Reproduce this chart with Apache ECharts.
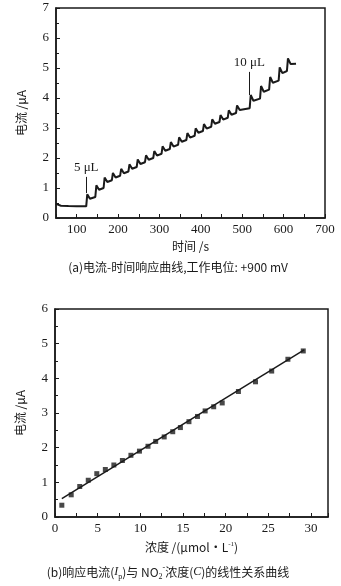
<!DOCTYPE html>
<html>
<head>
<meta charset="utf-8">
<script src="https://cdn.jsdelivr.net/npm/echarts@6/dist/echarts.min.js"></script>
<style>
  html, body { margin: 0; padding: 0; background: #fff; }
  #chart { width: 341px; height: 586px; }
</style>
</head>
<body>
<div id="chart"></div>
<script>
// (a) current-time trace: baseline before the first injection
const baseTime = [50, 54, 62, 80, 100, 123];
const baseCurrent = [0.47, 0.43, 0.41, 0.40, 0.39, 0.39];
// (a) injection times (s) and the plateau current after each one (uA)
const stepTime = [123, 145, 165, 185, 205, 225, 245, 265, 285, 305, 325, 345, 365,
  385, 405, 425, 445, 465, 485, 518, 543, 565, 588, 608];
const stepCurrent = [0.70, 1.00, 1.26, 1.41, 1.55, 1.70, 1.86, 2.00, 2.14, 2.30, 2.44,
  2.60, 2.74, 2.90, 3.04, 3.20, 3.34, 3.50, 3.66, 3.98, 4.28, 4.58, 4.90, 5.20];
const traceEnd = [630, 5.14];
// (a) injection arrows
const arrowText = ['5 μL', '10 μL'];
const arrowTime = [123, 517];
const arrowTop = [1.37, 4.87];
const arrowTip = [0.83, 4.1];

// (b) calibration points
const conc = [0.8, 1.9, 2.9, 3.9, 4.9, 5.9, 6.9, 7.9, 8.9, 9.9, 10.9, 11.8, 12.8,
  13.8, 14.7, 15.7, 16.7, 17.6, 18.6, 19.6, 21.5, 23.5, 25.4, 27.3, 29.1];
const response = [0.34, 0.64, 0.88, 1.06, 1.25, 1.37, 1.50, 1.63, 1.78, 1.90, 2.04,
  2.18, 2.31, 2.46, 2.58, 2.75, 2.90, 3.06, 3.18, 3.29, 3.62, 3.90, 4.21, 4.55, 4.79];
const fitStart = [0.8, 0.53];
const fitEnd = [29.2, 4.82];

const INK = '#1a1a1a';
const SERIF = '"Liberation Serif", "Noto Sans CJK SC", serif';
const CJK = '"Noto Sans CJK SC", "Liberation Serif", sans-serif';

// staircase trace: rise, overshoot, sag, then recovery to the plateau
const trace = baseTime.map((t, i) => [t, baseCurrent[i]]);
stepTime.forEach((t, i) => {
  const lvl = stepCurrent[i];
  const big = i >= 19;
  trace.push([t + 2.5, lvl + (big ? 0.12 : 0.09)]);
  trace.push([t + 9, lvl - (big ? 0.07 : 0.06)]);
  const last = i + 1 >= stepTime.length;
  const next = last ? traceEnd[0] : stepTime[i + 1];
  trace.push([next, last ? traceEnd[1] : lvl]);
});

function valueAxis(o) {
  return Object.assign({
    type: 'value',
    axisLine: { show: true, lineStyle: { color: INK, width: 1.5 } },
    axisTick: { show: true, inside: true, length: 4, lineStyle: { color: INK, width: 1 } },
    splitLine: { show: false },
    nameLocation: 'middle',
    nameTextStyle: { color: INK, fontFamily: CJK, fontSize: 12 },
  }, o);
}

const chart = echarts.init(document.getElementById('chart'), null, { renderer: 'canvas' });
chart.setOption({
  backgroundColor: '#fff',
  animation: false,
  grid: [
    { left: 56, top: 8, width: 269, height: 210, show: true, borderColor: INK, borderWidth: 1.5 },
    { left: 55, top: 309, width: 273, height: 208, show: true, borderColor: INK, borderWidth: 1.5 },
  ],
  xAxis: [
    valueAxis({
      gridIndex: 0, min: 50, max: 700, interval: 50,
      name: '时间 /s', nameGap: 22,
      axisLabel: { color: INK, fontFamily: SERIF, fontSize: 13, margin: 5,
        formatter: v => (v % 100 === 0 ? String(v) : '') },
    }),
    valueAxis({
      gridIndex: 1, min: 0, max: 32, interval: 2.5,
      name: '浓度 /(μmol·L{sup|-1})', nameGap: 24,
      nameTextStyle: { color: INK, fontFamily: CJK, fontSize: 12,
        rich: { sup: { fontSize: 7, verticalAlign: 'top', lineHeight: 10, fontFamily: SERIF } } },
      axisLabel: { color: INK, fontFamily: SERIF, fontSize: 13, margin: 5,
        formatter: v => (v % 5 === 0 ? String(v) : '') },
    }),
  ],
  yAxis: [
    valueAxis({
      gridIndex: 0, min: 0, max: 7, interval: 1,
      minorTick: { show: true, splitNumber: 2, length: 3, lineStyle: { color: INK } },
      name: '电流 /μA', nameGap: 29,
      axisLabel: { color: INK, fontFamily: SERIF, fontSize: 13, margin: 7 },
    }),
    valueAxis({
      gridIndex: 1, min: 0, max: 6, interval: 1,
      minorTick: { show: true, splitNumber: 2, length: 3, lineStyle: { color: INK } },
      name: '电流 /μA', nameGap: 29,
      axisLabel: { color: INK, fontFamily: SERIF, fontSize: 13, margin: 7 },
    }),
  ],
  series: [
    {
      type: 'line', xAxisIndex: 0, yAxisIndex: 0, data: trace,
      showSymbol: false, symbol: 'none',
      lineStyle: { color: INK, width: 2 },
      markLine: {
        silent: true, symbol: ['none', 'arrow'], symbolSize: [0, 6],
        lineStyle: { color: INK, width: 1, type: 'solid' },
        label: { show: true, position: 'start', distance: 3, color: INK,
          fontFamily: SERIF, fontSize: 13, formatter: p => p.name },
        data: arrowText.map((name, i) => [
          { name, coord: [arrowTime[i], arrowTop[i]] },
          { coord: [arrowTime[i], arrowTip[i]] },
        ]),
      },
    },
    {
      type: 'scatter', xAxisIndex: 1, yAxisIndex: 1,
      data: conc.map((c, i) => [c, response[i]]),
      symbol: 'rect', symbolSize: 5, itemStyle: { color: INK },
    },
    {
      type: 'line', xAxisIndex: 1, yAxisIndex: 1,
      data: [fitStart, fitEnd], showSymbol: false, symbol: 'none',
      lineStyle: { color: INK, width: 1.5 },
    },
  ],
  graphic: [
    {
      type: 'text', x: 178, y: 267,
      style: {
        text: '(a)电流-时间响应曲线,工作电位: +900 mV',
        fill: INK, font: '12px ' + CJK, textAlign: 'center', textVerticalAlign: 'middle',
      },
    },
    {
      type: 'text', x: 168, y: 572,
      style: {
        text: '(b)响应电流({it|I}{sub|p})与 NO{sub|2}{sup|-}浓度({it|C})的线性关系曲线',
        fill: INK, font: '12px ' + CJK, textAlign: 'center', textVerticalAlign: 'middle',
        rich: {
          it: { fontStyle: 'italic', fontFamily: SERIF, fontSize: 12, fill: INK },
          sub: { fontSize: 8, verticalAlign: 'bottom', lineHeight: 17, fontFamily: SERIF, fill: INK },
          sup: { fontSize: 8, verticalAlign: 'top', lineHeight: 17, fontFamily: SERIF, fill: INK },
        },
      },
    },
  ],
});
</script>
</body>
</html>
